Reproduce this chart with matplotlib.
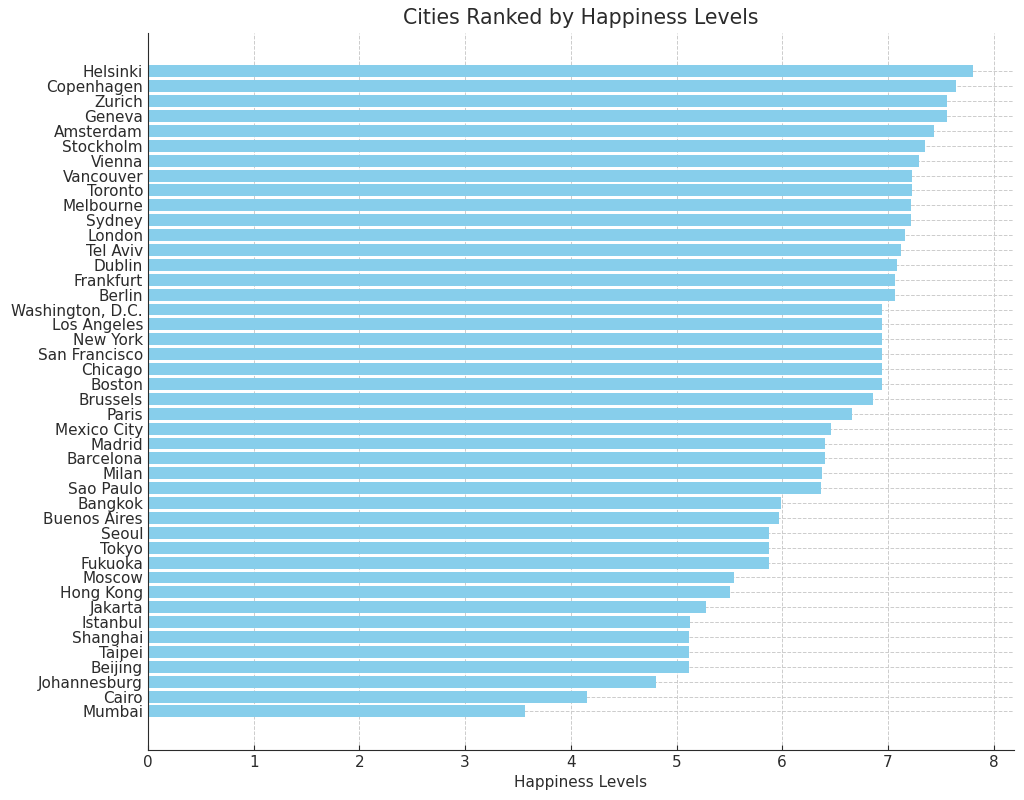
import matplotlib
matplotlib.use("Agg")
import matplotlib.pyplot as plt

cities = ['Helsinki', 'Copenhagen', 'Zurich', 'Geneva', 'Amsterdam', 'Stockholm',
          'Vienna', 'Vancouver', 'Toronto', 'Melbourne', 'Sydney', 'London',
          'Tel Aviv', 'Dublin', 'Frankfurt', 'Berlin', 'Washington, D.C.',
          'Los Angeles', 'New York', 'San Francisco', 'Chicago', 'Boston',
          'Brussels', 'Paris', 'Mexico City', 'Madrid', 'Barcelona', 'Milan',
          'Sao Paulo', 'Bangkok', 'Buenos Aires', 'Seoul', 'Tokyo', 'Fukuoka',
          'Moscow', 'Hong Kong', 'Jakarta', 'Istanbul', 'Shanghai', 'Taipei',
          'Beijing', 'Johannesburg', 'Cairo', 'Mumbai']
happiness = [7.80, 7.64, 7.56, 7.56, 7.44, 7.35,
             7.29, 7.23, 7.23, 7.22, 7.22, 7.16,
             7.12, 7.09, 7.07, 7.07, 6.94,
             6.94, 6.94, 6.94, 6.94, 6.94,
             6.86, 6.66, 6.46, 6.40, 6.40, 6.38,
             6.37, 5.99, 5.97, 5.87, 5.87, 5.87,
             5.54, 5.51, 5.28, 5.13, 5.12, 5.12,
             5.12, 4.81, 4.15, 3.57]

text_col = '#2b2b2b'
plt.rcParams['font.family'] = ['DejaVu Sans']
plt.rcParams['text.color'] = text_col
plt.rcParams['axes.labelcolor'] = text_col
plt.rcParams['xtick.color'] = text_col
plt.rcParams['ytick.color'] = text_col

fig, ax = plt.subplots(figsize=(10.24, 8), dpi=100)
fig.subplots_adjust(left=0.1445, right=0.990, top=0.959, bottom=0.0625)

ax.barh(cities, happiness, color='skyblue')
ax.invert_yaxis()

ax.set_title('Cities Ranked by Happiness Levels', fontsize=14.8, color=text_col)
ax.set_xlabel('Happiness Levels', fontsize=11)
ax.tick_params(axis='both', labelsize=11, direction='in')
ax.grid(True, linestyle='--', color='#cccccc', linewidth=0.7)
ax.set_axisbelow(True)
for s in ['top', 'right']:
    ax.spines[s].set_visible(False)
for s in ['left', 'bottom']:
    ax.spines[s].set_color(text_col)

fig.savefig('out.png', dpi=100)
